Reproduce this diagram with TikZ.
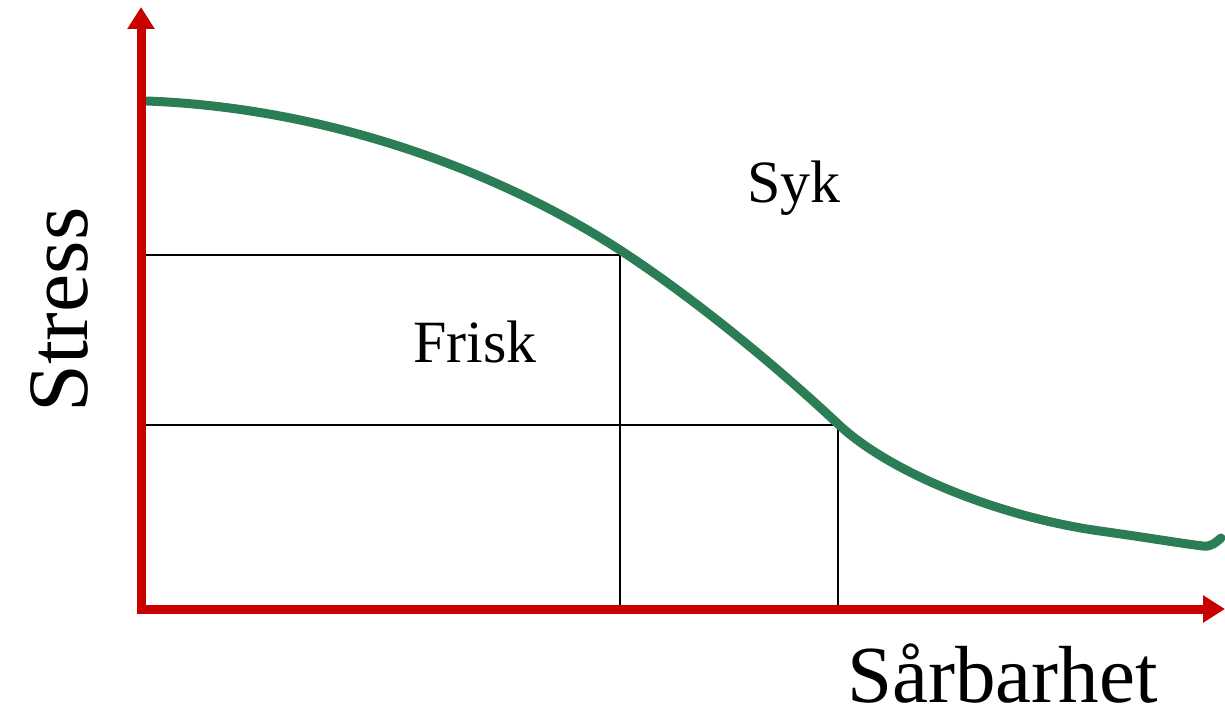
\documentclass[tikz,border=0pt]{standalone}
\usepackage{fontspec}
\setmainfont{Liberation Serif}
\usetikzlibrary{arrows.meta}
\definecolor{axisred}{RGB}{200,0,0}
\definecolor{curvegreen}{RGB}{42,125,85}
\tikzset{
  axisline/.style={draw=axisred, line width=9pt, line join=miter,
    {Triangle[length=22pt,width=26pt]}-{Triangle[length=22pt,width=26pt]}},
  curveline/.style={draw=curvegreen, line width=9pt, line cap=round, line join=round},
  gridline/.style={draw=black, line width=2.6pt},
  lbl/.style={inner sep=0pt, anchor=base west, text=black},
}
\begin{document}
\begin{tikzpicture}[x=1pt,y=-1pt]
\useasboundingbox (0,0) rectangle (1225,714);
\fill[white] (0,0) rectangle (1225,714);
% grid lines
\coordinate (a1) at (146,255);
\coordinate (a2) at (620,255);
\coordinate (a3) at (620,609);
\coordinate (b1) at (146,425);
\coordinate (b2) at (838,425);
\coordinate (b3) at (838,609);
\draw[gridline] (a1) -- (a2) -- (a3);
\draw[gridline] (b1) -- (b2) -- (b3);
% curve
\coordinate (c0) at (147,101);
\coordinate (c1) at (620,250);
\coordinate (c2) at (838,424);
\coordinate (c3) at (1100,531);
\coordinate (c4) at (1203,546);
\coordinate (c5) at (1221,538);
\draw[curveline] (c0) .. controls (330,108) and (500,172) .. (c1)
  .. controls (690,295.5) and (772,362) .. (c2)
  .. controls (890,473) and (1000,517) .. (c3)
  .. controls (1150,538) and (1185,544) .. (c4)
  .. controls (1212,547) and (1216,542) .. (c5);
% axes
\coordinate (ytop) at (141,7);
\coordinate (origin) at (141,609);
\coordinate (xend) at (1225,609);
\draw[axisline] (ytop) -- (origin) -- (xend);
% labels
\node[lbl, font=\fontsize{60}{72}\selectfont] (syk) at (747,203) {Syk};
\node[lbl, font=\fontsize{60}{72}\selectfont] (frisk) at (413,362) {Frisk};
\node[lbl, font=\fontsize{81}{97}\selectfont] (xlab) at (847,702) {Sårbarhet};
\node[lbl, rotate=90, font=\fontsize{86}{103}\selectfont] (ylab) at (87,413) {Stress};
\end{tikzpicture}
\end{document}
